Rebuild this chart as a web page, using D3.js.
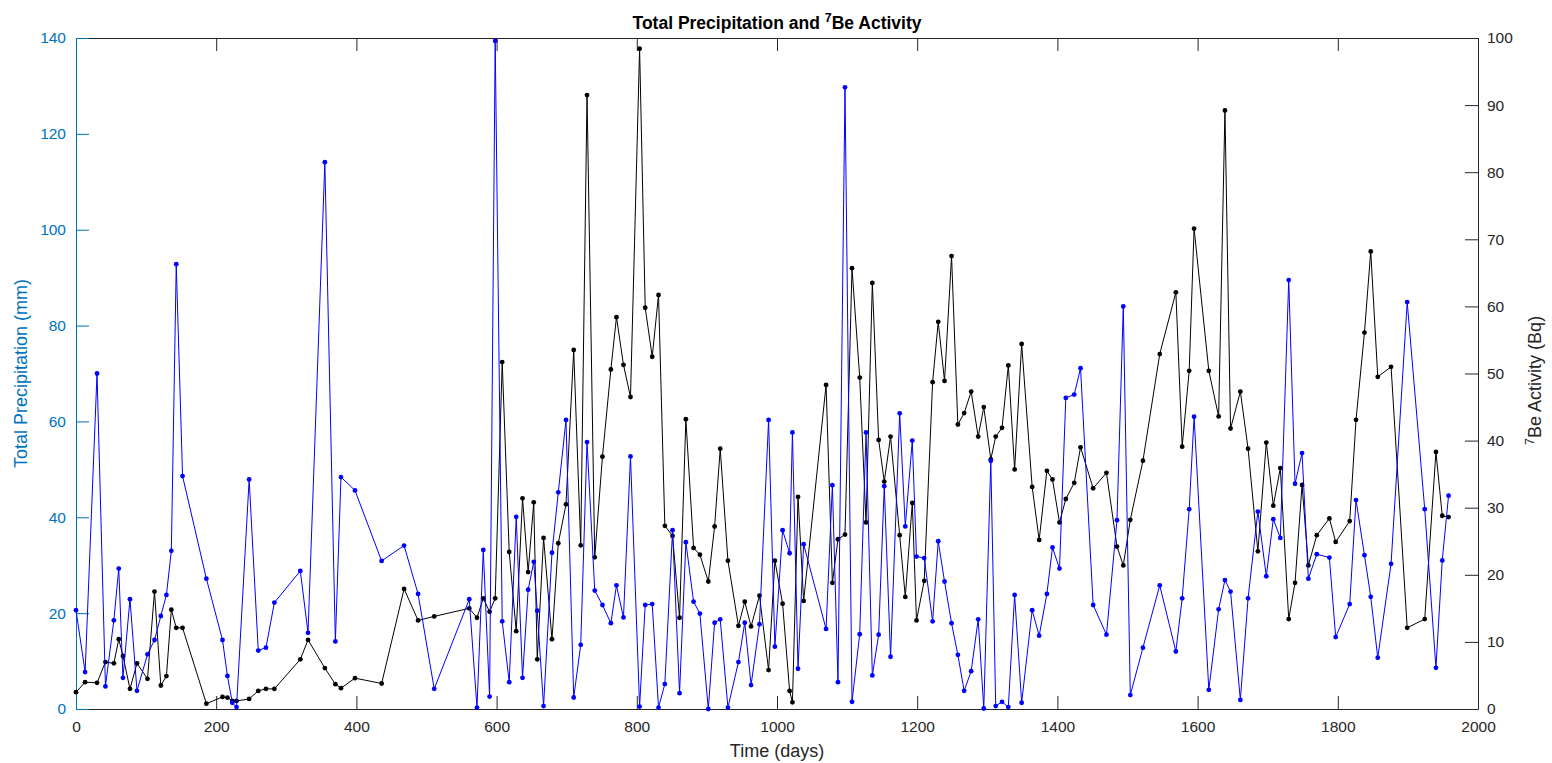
<!DOCTYPE html>
<html>
<head>
<meta charset="utf-8">
<script src="https://cdn.jsdelivr.net/npm/d3@7"></script>
<style>
    body { margin: 0; background: #ffffff; }
    svg text { font-family: "Liberation Sans", Arial, Helvetica, sans-serif; }
</style>
</head>
<body>
<script>
// 时间（天）
const days = [
    0, 13, 30, 42, 54, 61, 67, 77, 87, 102, 112, 121, 129, 136, 143, 152, 186, 209, 216, 223,
    229, 247, 260, 271, 283, 320, 331, 355, 370, 378, 398, 436, 468, 488, 511, 561, 572, 581, 590, 598,
    608, 618, 628, 637, 645, 653, 658, 667, 679, 688, 699, 710, 720, 729, 740, 751, 763, 771, 781, 791,
    804, 812, 822, 831, 840, 851, 861, 870, 881, 890, 902, 911, 919, 930, 945, 954, 963, 975, 988, 997,
    1008, 1018, 1022, 1030, 1038, 1070, 1079, 1087, 1097, 1107, 1118, 1127, 1136, 1145, 1153, 1162, 1175, 1183, 1193, 1199,
    1210, 1222, 1230, 1239, 1249, 1258, 1267, 1277, 1287, 1295, 1305, 1312, 1321, 1330, 1339, 1349, 1364, 1374, 1385, 1393,
    1403, 1412, 1424, 1433, 1451, 1470, 1485, 1494, 1504, 1522, 1546, 1569, 1578, 1588, 1595, 1616, 1630, 1639, 1647, 1661,
    1672, 1686, 1698, 1708, 1718, 1730, 1739, 1749, 1758, 1770, 1788, 1797, 1817, 1826, 1838, 1847, 1857, 1876, 1899, 1924,
    1940, 1949, 1958
];

// 总降水量 (mm)
const precipitation = [
    20.6, 7.7, 70.0, 4.7, 18.5, 29.3, 6.5, 22.9, 3.8, 11.4, 14.4, 19.4, 23.8, 33.0, 92.8, 48.6, 27.2, 14.4, 6.9, 1.3,
    0.4, 47.9, 12.2, 12.8, 22.2, 28.8, 15.9, 114.1, 14.1, 48.4, 45.6, 30.9, 34.1, 24.0, 4.2, 22.9, 0.3, 33.2, 2.6, 139.4,
    18.3, 5.6, 40.1, 6.5, 24.9, 30.7, 20.5, 0.6, 32.6, 45.2, 60.3, 2.4, 13.4, 55.7, 24.7, 21.7, 17.9, 25.8, 19.1, 52.7,
    0.5, 21.7, 21.9, 0.3, 5.2, 37.3, 3.3, 34.8, 22.4, 19.9, 0.0, 18.0, 18.7, 0.3, 9.8, 18.0, 5.0, 17.7, 60.3, 13.0,
    37.3, 32.5, 57.7, 8.4, 34.4, 16.7, 46.7, 5.6, 129.7, 1.5, 15.6, 57.7, 7.0, 15.5, 46.5, 10.9, 61.7, 38.1, 56.0, 31.8,
    31.5, 18.3, 35.0, 26.6, 17.9, 11.3, 3.8, 7.9, 18.7, 0.1, 51.8, 0.6, 1.5, 0.4, 23.8, 1.3, 20.6, 15.3, 24.0, 33.7,
    29.3, 64.9, 65.6, 71.1, 21.7, 15.5, 39.4, 84.0, 2.9, 12.8, 25.8, 12.0, 23.1, 41.7, 61.0, 4.0, 20.8, 26.9, 24.5, 1.9,
    23.1, 41.2, 27.7, 39.6, 35.7, 89.5, 47.0, 53.4, 27.2, 32.3, 31.6, 15.0, 21.9, 43.6, 32.1, 23.4, 10.7, 30.3, 84.9, 41.7,
    8.6, 31.0, 44.5
];

// 7Be 活度 (Bq)
const beActivity = [
    2.5, 4.0, 3.9, 7.0, 6.8, 10.4, 7.9, 3.0, 6.8, 4.5, 17.5, 3.5, 4.9, 14.8, 12.1, 12.1, 0.8, 1.8, 1.7, 1.2,
    1.2, 1.5, 2.7, 3.0, 3.0, 7.4, 10.3, 6.1, 3.7, 3.1, 4.6, 3.8, 17.9, 13.2, 13.8, 15.0, 13.6, 16.5, 14.5, 16.5,
    51.7, 23.4, 11.6, 31.4, 20.4, 30.8, 7.4, 25.5, 10.4, 24.7, 30.5, 53.5, 24.4, 91.5, 22.6, 37.6, 50.6, 58.4, 51.3, 46.5,
    98.4, 59.8, 52.5, 61.7, 27.3, 25.8, 13.6, 43.2, 24.0, 23.0, 19.0, 27.2, 38.8, 22.1, 12.4, 16.0, 12.3, 16.9, 5.8, 22.1,
    15.7, 2.7, 1.0, 31.6, 16.1, 48.3, 18.8, 25.3, 26.0, 65.7, 49.4, 27.8, 63.5, 40.1, 33.9, 40.6, 25.9, 16.7, 30.7, 13.2,
    19.1, 48.7, 57.7, 48.9, 67.5, 42.4, 44.1, 47.3, 40.6, 45.0, 37.2, 40.6, 41.9, 51.2, 35.7, 54.4, 33.1, 25.2, 35.5, 34.2,
    27.8, 31.3, 33.7, 39.0, 32.9, 35.2, 24.2, 21.4, 28.2, 37.0, 52.9, 62.1, 39.1, 50.4, 71.6, 50.4, 43.6, 89.2, 41.8, 47.3,
    38.8, 23.5, 39.7, 30.3, 35.9, 13.4, 18.8, 33.4, 21.4, 25.9, 28.4, 24.9, 28.0, 43.1, 56.1, 68.2, 49.5, 51.0, 12.1, 13.4,
    38.3, 28.8, 28.6
];

// 刻度
const xTicks = [0, 200, 400, 600, 800, 1000, 1200, 1400, 1600, 1800, 2000];
const leftTicks = [0, 20, 40, 60, 80, 100, 120, 140];
const rightTicks = [0, 10, 20, 30, 40, 50, 60, 70, 80, 90, 100];

const svgWidth = 1552, svgHeight = 763;
const plot = {left: 76, right: 1478, top: 38, bottom: 709};
const leftColor = '#0072bd';
const axisColor = '#262626';

const svg = d3.select('body')
    .append('svg')
    .attr('width', svgWidth)
    .attr('height', svgHeight);

// 比例尺
const x = d3.scaleLinear().domain([0, 2000]).range([plot.left, plot.right]);
const yLeft = d3.scaleLinear().domain([0, 140]).range([plot.bottom, plot.top]);
const yRight = d3.scaleLinear().domain([0, 100]).range([plot.bottom, plot.top]);

const tickLen = 13;

// 上边框
svg.append('g')
    .attr('transform', `translate(0,${plot.top})`)
    .call(d3.axisTop(x).tickValues(xTicks).tickSize(-tickLen).tickSizeOuter(0).tickFormat(''))
    .call(g => g.selectAll('path, line').attr('stroke', axisColor));

// 底部坐标轴
svg.append('g')
    .attr('transform', `translate(0,${plot.bottom})`)
    .call(d3.axisBottom(x).tickValues(xTicks).tickSize(-tickLen).tickSizeOuter(0).tickFormat(d3.format('d')))
    .call(g => g.selectAll('path, line').attr('stroke', axisColor))
    .call(g => g.selectAll('text').attr('fill', axisColor).style('font-size', '15.5px')
        .attr('y', 12));

// 左坐标轴
svg.append('g')
    .attr('transform', `translate(${plot.left},0)`)
    .call(d3.axisLeft(yLeft).tickValues(leftTicks).tickSize(-tickLen).tickSizeOuter(0))
    .call(g => g.selectAll('path, line').attr('stroke', leftColor))
    .call(g => g.selectAll('text').attr('fill', leftColor).style('font-size', '15.5px')
        .attr('x', -10));

// 右坐标轴
svg.append('g')
    .attr('transform', `translate(${plot.right},0)`)
    .call(d3.axisRight(yRight).tickValues(rightTicks).tickSize(-tickLen).tickSizeOuter(0))
    .call(g => g.selectAll('path, line').attr('stroke', axisColor))
    .call(g => g.selectAll('text').attr('fill', axisColor).style('font-size', '15.5px')
        .attr('x', 9));

// 折线 + 点
const drawSeries = (values, yScale, color) => {
    const pts = days.map((d, i) => [d, values[i]]);
    const line = d3.line().x(d => x(d[0])).y(d => yScale(d[1]));
    const g = svg.append('g');
    g.append('path')
        .datum(pts)
        .attr('d', line)
        .attr('fill', 'none')
        .attr('stroke', color)
        .attr('stroke-width', 1);
    g.selectAll('circle')
        .data(pts)
        .enter()
        .append('circle')
        .attr('cx', d => x(d[0]))
        .attr('cy', d => yScale(d[1]))
        .attr('r', 2.4)
        .attr('fill', color);
};
drawSeries(beActivity, yRight, '#000000');
drawSeries(precipitation, yLeft, '#0000ff');

// 标题
const title = svg.append('text')
    .attr('x', (plot.left + plot.right) / 2)
    .attr('y', 29)
    .attr('text-anchor', 'middle')
    .style('font-size', '17.5px')
    .style('font-weight', 'bold')
    .attr('fill', '#000');
title.append('tspan').text('Total Precipitation and ');
title.append('tspan').attr('dy', -7).style('font-size', '12.5px').text('7');
title.append('tspan').attr('dy', 7).text('Be Activity');

// x 轴标题
svg.append('text')
    .attr('x', (plot.left + plot.right) / 2)
    .attr('y', 757)
    .attr('text-anchor', 'middle')
    .style('font-size', '18px')
    .attr('fill', axisColor)
    .text('Time (days)');

// 左 y 轴标题
svg.append('text')
    .attr('transform', `translate(27,${(plot.top + plot.bottom) / 2}) rotate(-90)`)
    .attr('text-anchor', 'middle')
    .style('font-size', '18px')
    .attr('fill', leftColor)
    .text('Total Precipitation (mm)');

// 右 y 轴标题
const rLabel = svg.append('text')
    .attr('transform', `translate(1541,${(plot.top + plot.bottom) / 2 + 7}) rotate(-90)`)
    .attr('text-anchor', 'middle')
    .style('font-size', '18px')
    .attr('fill', axisColor);
rLabel.append('tspan').attr('dy', -7).style('font-size', '13px').text('7');
rLabel.append('tspan').attr('dy', 7).text('Be Activity (Bq)');
</script>
</body>
</html>
